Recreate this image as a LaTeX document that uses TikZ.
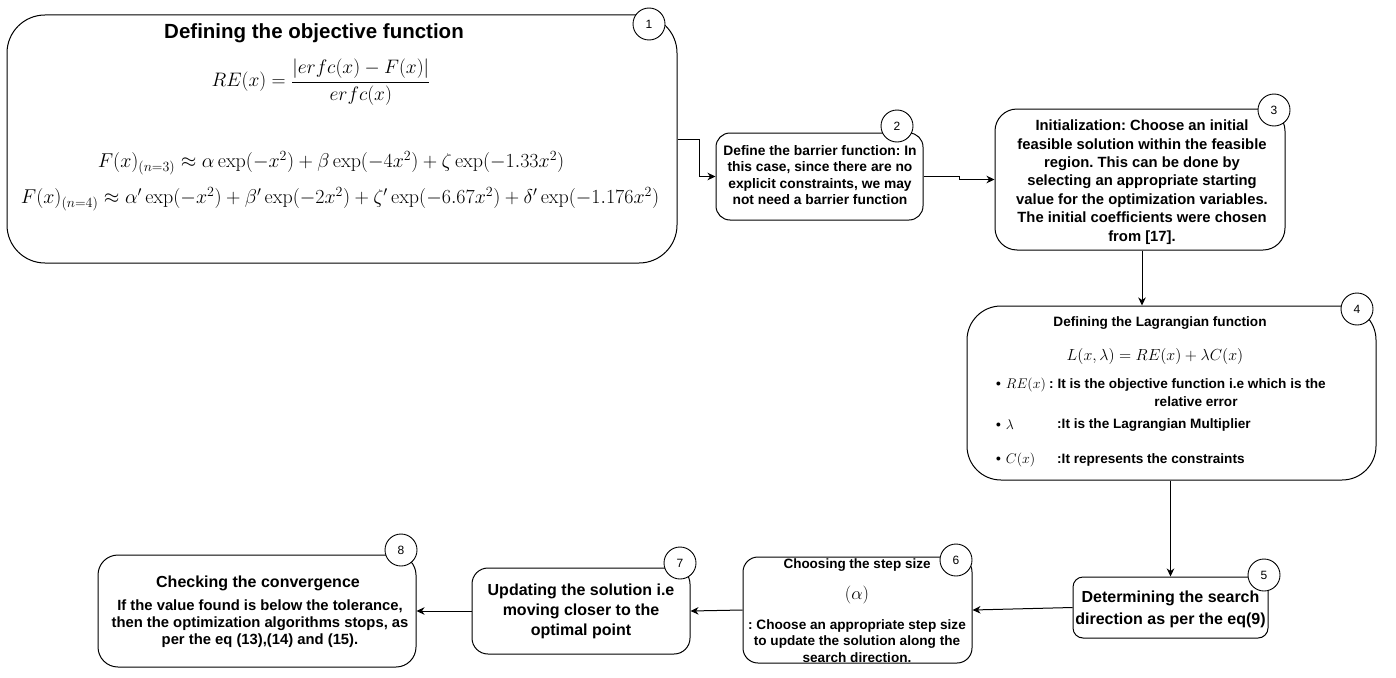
\RequirePackage{fix-cm}
\documentclass[tikz,border=0pt]{standalone}
\usepackage{fontspec}
\usetikzlibrary{arrows.meta,calc}
\newfontfamily\af{Liberation Sans}
\frenchspacing
\begin{document}
\frenchspacing
\begin{tikzpicture}[x=1pt,y=-1pt,
  box/.style={draw, line width=1pt, rounded corners=#1, inner sep=0pt},
  num/.style={draw, circle, fill=white, minimum size=32pt, inner sep=0pt, line width=0.9pt, font=\af\fontsize{12}{14}\selectfont},
  arr/.style={-{Stealth[length=8pt,width=7.5pt,inset=2.5pt]}, line width=1pt},
  txt/.style 2 args={align=center, inner sep=0pt, font=\af\bfseries\fontsize{#1}{#2}\selectfont},
  mth/.style={inner sep=0pt, font=\fontsize{#1}{24}\selectfont}
]
\useasboundingbox (0,0) rectangle (1396,677);

% boxes
\node[box=38pt, minimum width=670pt, minimum height=248pt] (b1) at (342,139) {};
\node[box=14pt, minimum width=207pt, minimum height=87pt] (b2) at (819.5,176.5) {};
\node[box=22pt, minimum width=290pt, minimum height=141pt] (b3) at (1140,179.5) {};
\node[box=34pt, minimum width=409pt, minimum height=174pt] (b4) at (1171.5,393) {};
\node[box=10pt, minimum width=195pt, minimum height=61pt] (b5) at (1170.5,607.5) {};
\node[box=15pt, minimum width=229pt, minimum height=106pt] (b6) at (857.5,610) {};
\node[box=16pt, minimum width=218pt, minimum height=86pt] (b7) at (581,611) {};
\node[box=20pt, minimum width=318pt, minimum height=112pt] (b8) at (257,611) {};

% box 1
\node[txt={20.5}{24}] (t1) at (314,33) {Defining the objective function};
\node[mth=19.5] (m1a) at (321,82) {$\displaystyle RE(x)=\frac{|erfc(x)-F(x)|}{erfc(x)}$};
\node[mth=20] (m1b) at (331,163) {$F(x)_{(n=3)}\approx\alpha\exp(-x^2)+\beta\exp(-4x^2)+\zeta\exp(-1.33x^2)$};
\node[mth=20] (m1c) at (340,199) {$F(x)_{(n=4)}\approx\alpha'\exp(-x^2)+\beta'\exp(-2x^2)+\zeta'\exp(-6.67x^2)+\delta'\exp(-1.176x^2)$};

% box 2
\node[txt={13.8}{16.5}] (t2) at (820,175) {Define the barrier function: In\\this case, since there are no\\explicit constraints, we may\\not need a barrier function};

% box 3
\node[txt={14.8}{18.4}] (t3) at (1142,182) {Initialization: Choose an initial\\feasible solution within the feasible\\region. This can be done by\\selecting an appropriate starting\\value for the optimization variables.\\The initial coefficients were chosen\\from [17].};

% box 4
\node[txt={13.6}{16}] (t4) at (1160,323) {Defining the Lagrangian function};
\node[mth=16] (m4) at (1155,356) {$L(x,\lambda)=RE(x)+\lambda C(x)$};
\node[txt={13.6}{16}, anchor=west] (bl1) at (996,385) {\textbullet\hspace{5pt}\mdseries\fontsize{14}{16}\selectfont$RE(x)$};
\node[txt={13.6}{16}, anchor=west] (tl1) at (1049,385) {: It is the objective function i.e which is the};
\node[txt={13.6}{16}] (tl1b) at (1196,402) {relative error};
\node[txt={13.6}{16}, anchor=west] (bl2) at (996,425) {\textbullet\hspace{5pt}\mdseries\fontsize{14}{16}\selectfont$\lambda$};
\node[txt={13.6}{16}, anchor=west] (tl2) at (1057,425) {:It is the Lagrangian Multiplier};
\node[txt={13.6}{16}, anchor=west] (bl3) at (996,460) {\textbullet\hspace{5pt}\mdseries\fontsize{14}{16}\selectfont$C(x)$};
\node[txt={13.6}{16}, anchor=west] (tl3) at (1057,460) {:It represents the constraints};

% box 5
\node[txt={16}{22}] (t5) at (1170.5,609) {Determining the search\\direction as per the eq(9)};

% box 6
\node[txt={13.5}{16}] (t6a) at (857,565) {Choosing the step size};
\node[mth=18] (m6) at (857,595) {$(\alpha)$};
\node[txt={13.6}{16.5}] (t6b) at (857,641) {: Choose an appropriate step size\\to update the solution along the\\search direction.};

% box 7
\node[txt={16}{20}] (t7) at (581,611) {Updating the solution i.e\\moving closer to the\\optimal point};

% box 8
\node[txt={16}{19}] (t8a) at (258,583) {Checking the convergence};
\node[txt={14.8}{17}] (t8b) at (260,624) {If the value found is below the tolerance,\\then the optimization algorithms stops, as\\per the eq (13),(14) and (15).};

% number circles
\node[num] (c1) at (649,24) {1};
\node[num] (c2) at (897,126) {2};
\node[num] (c3) at (1274,110) {3};
\node[num] (c4) at (1357,309) {4};
\node[num] (c5) at (1264,575) {5};
\node[num] (c6) at (956,560) {6};
\node[num] (c7) at (680,563) {7};
\node[num] (c8) at (401,550) {8};

% connectors
\draw[arr] (b1.east) -- ++(22,0) |- (b2.west);
\draw[arr] (b2.east) -- ++(36,0) |- (b3.west);
\draw[arr] ([xshift=2pt]b3.south) -- ([xshift=2pt]b3.south |- b4.north);
\draw[arr] (b5.north |- b4.south) -- (b5.north);
\draw[arr] (b5.west) -- (b6.east);
\draw[arr] (b6.west) -- (b7.east);
\draw[arr] (b7.west) -- (b8.east);
\end{tikzpicture}
\end{document}
